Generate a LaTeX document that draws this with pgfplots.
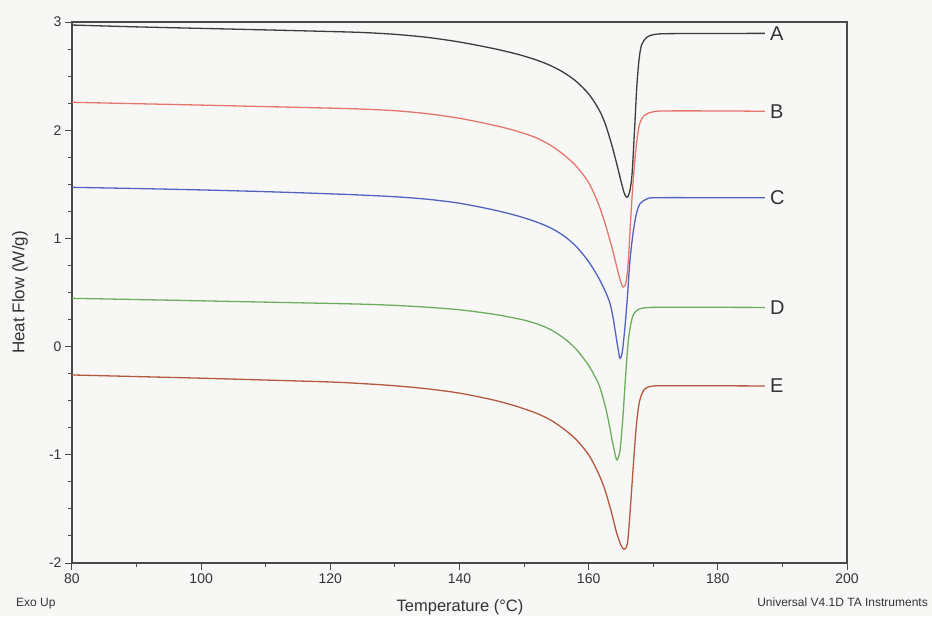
\documentclass[border=0pt]{standalone}
\usepackage{fontspec}
\setmainfont{Liberation Sans}
\usepackage{pgfplots}
\pgfplotsset{compat=1.18}

\definecolor{pagebg}{HTML}{F7F8F6}
\definecolor{axisgray}{HTML}{4A4A4A}
\definecolor{textgray}{HTML}{333333}
\definecolor{curveA}{HTML}{3C3C3C}
\definecolor{curveB}{HTML}{E5766B}
\definecolor{curveC}{HTML}{5262C0}
\definecolor{curveD}{HTML}{6DAE5E}
\definecolor{curveE}{HTML}{B5583F}

% DSC heat flow curves, one table per sample
\pgfplotstableread{
T q
80 2.972
90 2.955
100 2.941
110 2.927
120 2.912
125 2.903
130 2.886
135 2.858
140 2.815
145 2.758
148 2.717
150 2.685
152 2.647
154 2.600
156 2.538
158 2.455
160 2.335
161.5 2.200
162.5 2.070
163.5 1.880
164.3 1.700
165.0 1.530
165.5 1.420
165.9 1.380
166.3 1.420
166.7 1.580
167.1 2.000
167.45 2.400
167.8 2.650
168.2 2.790
169.0 2.858
170.0 2.883
172.0 2.892
180 2.894
187.3 2.895
}\dataA
\pgfplotstableread{
T q
80 2.258
90 2.245
100 2.232
110 2.218
120 2.204
125 2.195
130 2.180
135 2.153
140 2.110
145 2.050
148 2.006
150 1.970
152 1.927
154 1.864
156 1.780
158 1.672
160 1.515
161.5 1.320
162.5 1.145
163.5 0.940
164.3 0.750
164.9 0.610
165.37 0.550
165.8 0.600
166.15 0.800
166.5 1.170
166.9 1.540
167.4 1.870
167.9 2.060
168.7 2.140
170.0 2.171
172.0 2.178
180 2.178
187.3 2.175
}\dataB
\pgfplotstableread{
T q
80 1.472
90 1.461
100 1.448
110 1.432
120 1.412
125 1.400
130 1.385
135 1.362
140 1.325
145 1.267
148 1.224
150 1.190
152 1.150
154 1.100
156 1.030
158 0.930
160 0.785
161.5 0.640
162.5 0.520
163.3 0.400
163.8 0.260
164.2 0.110
164.55 -0.020
164.86 -0.108
165.2 -0.050
165.6 0.170
166.0 0.460
166.4 0.800
166.9 1.060
167.4 1.230
167.95 1.320
169.0 1.364
170.5 1.376
180 1.376
187.3 1.376
}\dataC
\pgfplotstableread{
T q
80 0.446
90 0.435
100 0.423
110 0.411
120 0.399
125 0.392
130 0.381
135 0.364
140 0.340
145 0.302
148 0.270
150 0.245
152 0.210
154 0.160
156 0.085
158 -0.020
160 -0.175
161.5 -0.340
162.3 -0.490
163.0 -0.665
163.7 -0.885
164.2 -1.020
164.44 -1.048
164.86 -0.956
165.27 -0.678
165.68 -0.309
166.15 0.061
166.8 0.277
167.7 0.344
169.0 0.360
171.0 0.363
180 0.363
187.3 0.362
}\dataD
\pgfplotstableread{
T q
80 -0.262
90 -0.277
100 -0.292
110 -0.309
120 -0.327
125 -0.342
130 -0.362
135 -0.390
140 -0.430
145 -0.490
148 -0.537
150 -0.575
152 -0.618
154 -0.675
156 -0.755
158 -0.855
160 -1.000
161.5 -1.170
162.5 -1.320
163.5 -1.525
164.3 -1.715
165.0 -1.835
165.5 -1.874
166.0 -1.818
166.4 -1.541
166.9 -1.110
167.4 -0.720
167.9 -0.500
168.7 -0.390
170.0 -0.364
172.0 -0.361
180 -0.362
187.3 -0.364
}\dataE

\begin{document}
\begin{tikzpicture}[x=1pt,y=1pt]
\fill[pagebg] (-72,-53) rectangle (860,563);
\begin{axis}[
  at={(0,0)}, anchor=south west,
  scale only axis, width=775pt, height=541pt,
  xmin=80, xmax=200, ymin=-2, ymax=3,
  xtick={80,100,...,200}, ytick={-2,-1,...,3},
  minor x tick num=1, minor y tick num=3,
  xtick pos=lower, ytick pos=left,
  tick align=outside, major tick length=7pt, minor tick length=4pt,
  every tick/.style={axisgray, line width=1pt},
  axis line style={axisgray, line width=1.2pt},
  /pgf/number format/assume math mode=true,
  ticklabel style={font=\fontsize{14}{16}\selectfont, text=textgray},
  every axis plot/.append style={line width=1.3pt, smooth, tension=0.5},
  clip=false,
]
\addplot[curveA] table[x=T,y=q] {\dataA};
\addplot[curveB] table[x=T,y=q] {\dataB};
\addplot[curveC] table[x=T,y=q] {\dataC};
\addplot[curveD] table[x=T,y=q] {\dataD};
\addplot[curveE] table[x=T,y=q] {\dataE};

\begin{scope}[every node/.style={anchor=west, inner sep=0pt, xshift=5pt,
    text=textgray, font=\fontsize{20}{20}\selectfont}]
\node at (axis cs:187.3,2.895) {A};
\node at (axis cs:187.3,2.175) {B};
\node at (axis cs:187.3,1.376) {C};
\node at (axis cs:187.3,0.362) {D};
\node at (axis cs:187.3,-0.364) {E};
\end{scope}
\end{axis}

\node[anchor=base, inner sep=0pt, text=textgray, font=\fontsize{16.5}{16.5}\selectfont]
  at (388,-48) {Temperature (°C)};
\node[rotate=90, anchor=center, inner sep=0pt, text=textgray, font=\fontsize{17}{17}\selectfont]
  at (-52,270.5) {Heat Flow (W/g)};
\node[anchor=base west, inner sep=0pt, text=textgray, font=\fontsize{12}{12}\selectfont]
  at (-56,-43) {Exo Up};
\node[anchor=base east, inner sep=0pt, text=textgray, font=\fontsize{12}{12}\selectfont]
  at (856,-43) {Universal V4.1D TA Instruments};

\pgfresetboundingbox
\useasboundingbox (-72,-53) rectangle (860,563);
\end{tikzpicture}
\end{document}
